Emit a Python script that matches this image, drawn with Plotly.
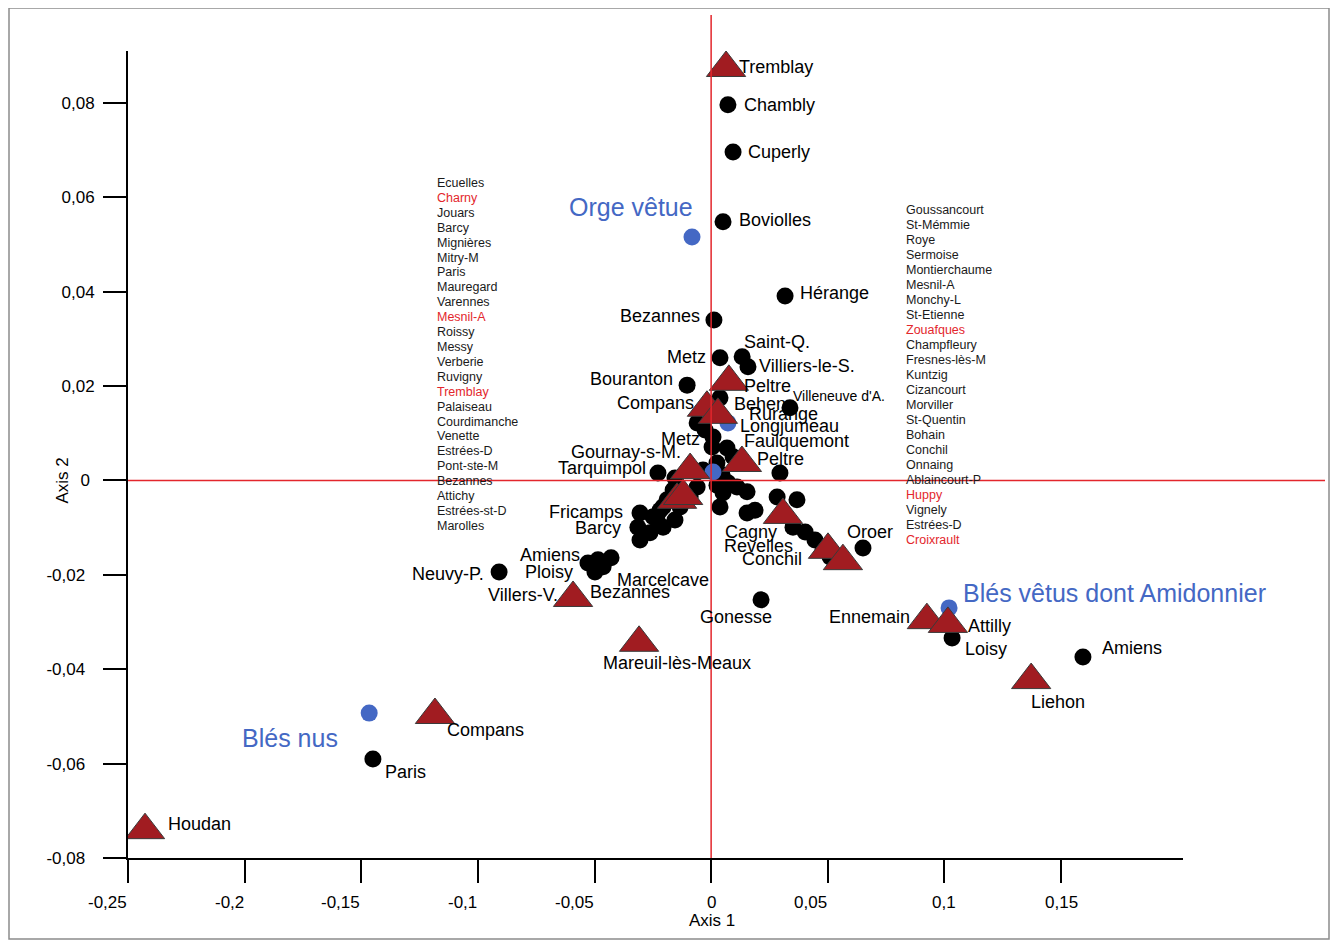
import plotly.graph_objects as go

# site scores (black circles)
black_x = [0.0072, 0.0094, 0.0051, 0.0317, 0.0012, 0.0038, 0.0133, 0.0158, -0.0103, 0.0038,
           0.0338, -0.0228, 0.0295, -0.0909, -0.1450, 0.0214, 0.1033, 0.1594, 0.0651,
           -0.0060, -0.0026, 0.0008, 0.0004, 0.0068, 0.0094, 0.0025, 0.0047, 0.0072, 0.0025,
           0.0111, 0.0154, 0.0051, 0.0038, 0.0154, 0.0188, 0.0283, 0.0368, 0.0351, 0.0403,
           0.0445, 0.0480, 0.0510, -0.0035, -0.0060, -0.0090, -0.0133, -0.0163, -0.0189,
           -0.0219, -0.0249, -0.0305, -0.0314, -0.0305, -0.0262, -0.0232, -0.0206, -0.0176,
           -0.0155, -0.0206, -0.0155, -0.0528, -0.0498, -0.0463, -0.0429, -0.0485]
black_y = [0.0796, 0.0696, 0.0548, 0.0391, 0.0340, 0.0260, 0.0262, 0.0241, 0.0202, 0.0175,
           0.0154, 0.0016, 0.0016, -0.0194, -0.0590, -0.0253, -0.0334, -0.0374, -0.0143,
           0.0122, 0.0107, 0.0092, 0.0071, 0.0069, 0.0050, 0.0037, 0.0012, -0.0005, -0.0010,
           -0.0014, -0.0024, -0.0026, -0.0056, -0.0069, -0.0063, -0.0035, -0.0041, -0.0099, -0.0109,
           -0.0126, -0.0147, -0.0162, 0.0022, -0.0014, -0.0035, -0.0056, -0.0020, -0.0041,
           -0.0063, -0.0077, -0.0069, -0.0099, -0.0126, -0.0111, -0.0084, -0.0056, -0.0041,
           -0.0084, -0.0099, 0.0005, -0.0175, -0.0194, -0.0183, -0.0164, -0.0168]

# site scores (red triangles)
tri_x = [0.0064, -0.2427, -0.1184, -0.0309, -0.0592, 0.1372, 0.0925, 0.1015, 0.0501,
         0.0565, 0.0308, 0.0076, -0.0018, 0.0029, 0.0132, -0.0090, -0.0146, -0.0120]
tri_y = [0.0874, -0.0741, -0.0497, -0.0344, -0.0249, -0.0423, -0.0296, -0.0304, -0.0147,
         -0.0171, -0.0073, 0.0209, 0.0154, 0.0139, 0.0037, 0.0022, -0.0041, -0.0033]

# species scores (blue)
blue_x = [-0.0082, 0.0072, 0.0008, 0.1020, -0.1466]
blue_y = [0.0516, 0.0122, 0.0018, -0.0270, -0.0493]

# point labels: (text, group, index)
point_labels = [
    ("Chambly", "b", 0), ("Cuperly", "b", 1), ("Boviolles", "b", 2), ("Hérange", "b", 3),
    ("Bezannes", "b", 4), ("Metz", "b", 5), ("Saint-Q.", "b", 6), ("Villiers-le-S.", "b", 7),
    ("Bouranton", "b", 8), ("Rurange", "b", 9), ("Villeneuve d'A.", "b", 10),
    ("Tarquimpol", "b", 11), ("Neuvy-P.", "b", 13), ("Paris", "b", 14), ("Gonesse", "b", 15),
    ("Loisy", "b", 16), ("Amiens", "b", 17), ("Oroer", "b", 18), ("Metz", "b", 22),
    ("Cagny", "b", 33), ("Revelles", "b", 34), ("Conchil", "b", 37), ("Fricamps", "b", 50),
    ("Barcy", "b", 51), ("Amiens", "b", 60), ("Ploisy", "b", 61), ("Marcelcave", "b", 61),
    ("Tremblay", "t", 0), ("Houdan", "t", 1), ("Compans", "t", 2), ("Mareuil-lès-Meaux", "t", 3),
    ("Bezannes", "t", 4), ("Villers-V.", "t", 4), ("Liehon", "t", 5), ("Ennemain", "t", 6),
    ("Attilly", "t", 7), ("Peltre", "t", 11), ("Compans", "t", 12), ("Behen", "t", 13),
    ("Faulquemont", "t", 14), ("Peltre", "t", 14), ("Gournay-s-M.", "t", 15),
    ("Longjumeau", "u", 1),
]
# placement of each label: (xanchor, dx px, dy px)
label_place = [
    ("left", 14, 0), ("left", 13, 0), ("left", 14, 2), ("left", 13, 3),
    ("right", -12, 4), ("right", -12, 1), ("left", 0, 15), ("left", 9, 1),
    ("right", -12, 6), ("left", 27, -16), ("left", 1, 12),
    ("right", -10, 5), ("right", -13, -2), ("left", 10, -13), ("center", -25, -17),
    ("left", 11, -11), ("left", 17, 9), ("left", -18, 16), ("right", -10, 8),
    ("left", -24, -19), ("left", -33, -36), ("left", -53, -32), ("right", -15, 1),
    ("right", -15, -1), ("right", -6, 8), ("right", -20, 0), ("left", 20, -8),
    ("left", 11, 1), ("left", 21, 6), ("left", 10, -15), ("center", 38, -20),
    ("left", 15, 6), ("right", -13, 3), ("center", 27, -22), ("right", -15, 3),
    ("left", 18, -2), ("left", 13, -4), ("right", -11, 5), ("left", 14, 11),
    ("left", 0, 22), ("left", 13, 4), ("right", -7, 18),
    ("left", 10, -3),
]

# species labels (blue): (text, index)
species_labels = [("Orge vêtue", 0), ("Blés vêtus dont Amidonnier", 3), ("Blés nus", 4)]
species_place = [("right", 3, 30), ("left", 12, 15), ("right", -29, -25)]

left_list = ["Ecuelles", "Charny", "Jouars", "Barcy", "Mignières", "Mitry-M", "Paris",
             "Mauregard", "Varennes", "Mesnil-A", "Roissy", "Messy", "Verberie", "Ruvigny",
             "Tremblay", "Palaiseau", "Courdimanche", "Venette", "Estrées-D", "Pont-ste-M",
             "Bezannes", "Attichy", "Estrées-st-D", "Marolles"]
left_red = ["Charny", "Mesnil-A", "Tremblay"]
right_list = ["Goussancourt", "St-Mémmie", "Roye", "Sermoise", "Montierchaume", "Mesnil-A",
              "Monchy-L", "St-Etienne", "Zouafques", "Champfleury", "Fresnes-lès-M", "Kuntzig",
              "Cizancourt", "Morviller", "St-Quentin", "Bohain", "Conchil", "Onnaing",
              "Ablaincourt-P", "Huppy", "Vignely", "Estrées-D", "Croixrault"]
right_red = ["Zouafques", "Huppy", "Croixrault"]

x_ticks = [-0.25, -0.2, -0.15, -0.1, -0.05, 0, 0.05, 0.1, 0.15]
x_ticktext = ["-0,25", "-0,2", "-0,15", "-0,1", "-0,05", "0", "0,05", "0,1", "0,15"]
y_ticks = [-0.08, -0.06, -0.04, -0.02, 0, 0.02, 0.04, 0.06, 0.08]
y_ticktext = ["-0,08", "-0,06", "-0,04", "-0,02", "0", "0,02", "0,04", "0,06", "0,08"]

FONT = "Liberation Sans, Arial, sans-serif"
RED = "#e3262c"
BLUE = "#4468c4"
TRI = "#a11c21"
NB = "\u00a0"

fig = go.Figure()
fig.add_trace(go.Scatter(x=black_x, y=black_y, mode="markers",
                         marker=dict(size=17, color="black"), hoverinfo="skip"))
fig.add_trace(go.Scatter(x=blue_x, y=blue_y, mode="markers",
                         marker=dict(size=17, color=BLUE), hoverinfo="skip"))
fig.add_trace(go.Scatter(x=tri_x, y=tri_y, mode="markers",
                         marker=dict(size=34, color=TRI, symbol="triangle-up",
                                     line=dict(color="#3a3a3a", width=1)),
                         hoverinfo="skip"))

groups = {"b": (black_x, black_y), "t": (tri_x, tri_y), "u": (blue_x, blue_y)}
annotations = []
for (txt, g, i), (anc, dx, dy) in zip(point_labels, label_place):
    gx, gy = groups[g]
    size = 14 if txt == "Villeneuve d'A." else 18
    annotations.append(dict(x=gx[i], y=gy[i], xref="x", yref="y", text=txt, showarrow=False,
                            xanchor=anc, yanchor="middle", xshift=dx, yshift=dy,
                            font=dict(family=FONT, size=size, color="black")))
for (txt, i), (anc, dx, dy) in zip(species_labels, species_place):
    annotations.append(dict(x=blue_x[i], y=blue_y[i], xref="x", yref="y", text=txt,
                            showarrow=False, xanchor=anc, yanchor="middle",
                            xshift=dx, yshift=dy,
                            font=dict(family=FONT, size=25, color=BLUE)))

# plot area in reference pixels: x 128..1183, y 51..858
def px(xp):
    return (xp - 128) / 1055

def py(yp):
    return (858 - yp) / 807

for k, name in enumerate(left_list):
    annotations.append(dict(x=px(435), y=py(183 + 14.91 * k), xref="paper", yref="paper",
                            text=name, showarrow=False, xanchor="left", yanchor="middle",
                            font=dict(family=FONT, size=12.5,
                                      color=RED if name in left_red else "#1a1a1a")))
for k, name in enumerate(right_list):
    annotations.append(dict(x=px(904), y=py(210 + 15.0 * k), xref="paper", yref="paper",
                            text=name, showarrow=False, xanchor="left", yanchor="middle",
                            font=dict(family=FONT, size=12.5,
                                      color=RED if name in right_red else "#1a1a1a")))

# x tick labels: most sit to the left of their tick, as in the original
x_tick_anchor = ["right", "right", "right", "right", "right", "center", "right", "center", "center"]
for v, t, a in zip(x_ticks, x_ticktext, x_tick_anchor):
    annotations.append(dict(x=v, y=0, xref="x", yref="paper", text=t, showarrow=False,
                            xanchor=a, yanchor="middle", xshift=1 if a == "right" else 0,
                            yshift=-44, font=dict(family=FONT, size=17, color="black")))

annotations.append(dict(x=px(712), y=py(932), xref="paper", yref="paper", text="Axis 1",
                        showarrow=False, font=dict(family=FONT, size=17, color="black")))
annotations.append(dict(x=px(50), y=py(481), xref="paper", yref="paper", text="Axis 2",
                        showarrow=False, textangle=-90,
                        font=dict(family=FONT, size=17, color="black")))

y_labels = [t + NB + NB if t.startswith("-") else (t + NB if t == "0" else t) for t in y_ticktext]

shapes = [
    dict(type="line", xref="x", yref="paper", x0=0, x1=0, y0=0, y1=py(15),
         line=dict(color=RED, width=1.5), layer="above"),
    dict(type="line", xref="paper", yref="y", x0=0, x1=px(1325), y0=0, y1=0,
         line=dict(color=RED, width=1.5), layer="above"),
    dict(type="rect", xref="paper", yref="paper", x0=px(9), x1=px(1329), y0=py(939),
         y1=py(8), line=dict(color="#8c8c8c", width=1.5), layer="below"),
]

# the page adds an 8px body margin, so the figure is 16px smaller than the window
fig.update_layout(
    width=1322, height=932,
    margin=dict(l=120, r=147, t=43, b=82),
    paper_bgcolor="white", plot_bgcolor="white",
    showlegend=False,
    annotations=annotations,
    shapes=shapes,
    xaxis=dict(range=[-0.25, 0.2023], showgrid=False, zeroline=False,
               showline=True, linecolor="black", linewidth=2,
               tickvals=x_ticks, ticks="outside", ticklen=23, tickwidth=2,
               tickcolor="black", showticklabels=False),
    yaxis=dict(range=[-0.08, 0.091], showgrid=False, zeroline=False,
               showline=True, linecolor="black", linewidth=2,
               tickvals=y_ticks, ticktext=y_labels, ticks="outside", ticklen=23,
               tickwidth=2, tickcolor="black", ticklabelstandoff=5,
               tickfont=dict(family=FONT, size=17, color="black")),
)

fig.write_html("out.html")
